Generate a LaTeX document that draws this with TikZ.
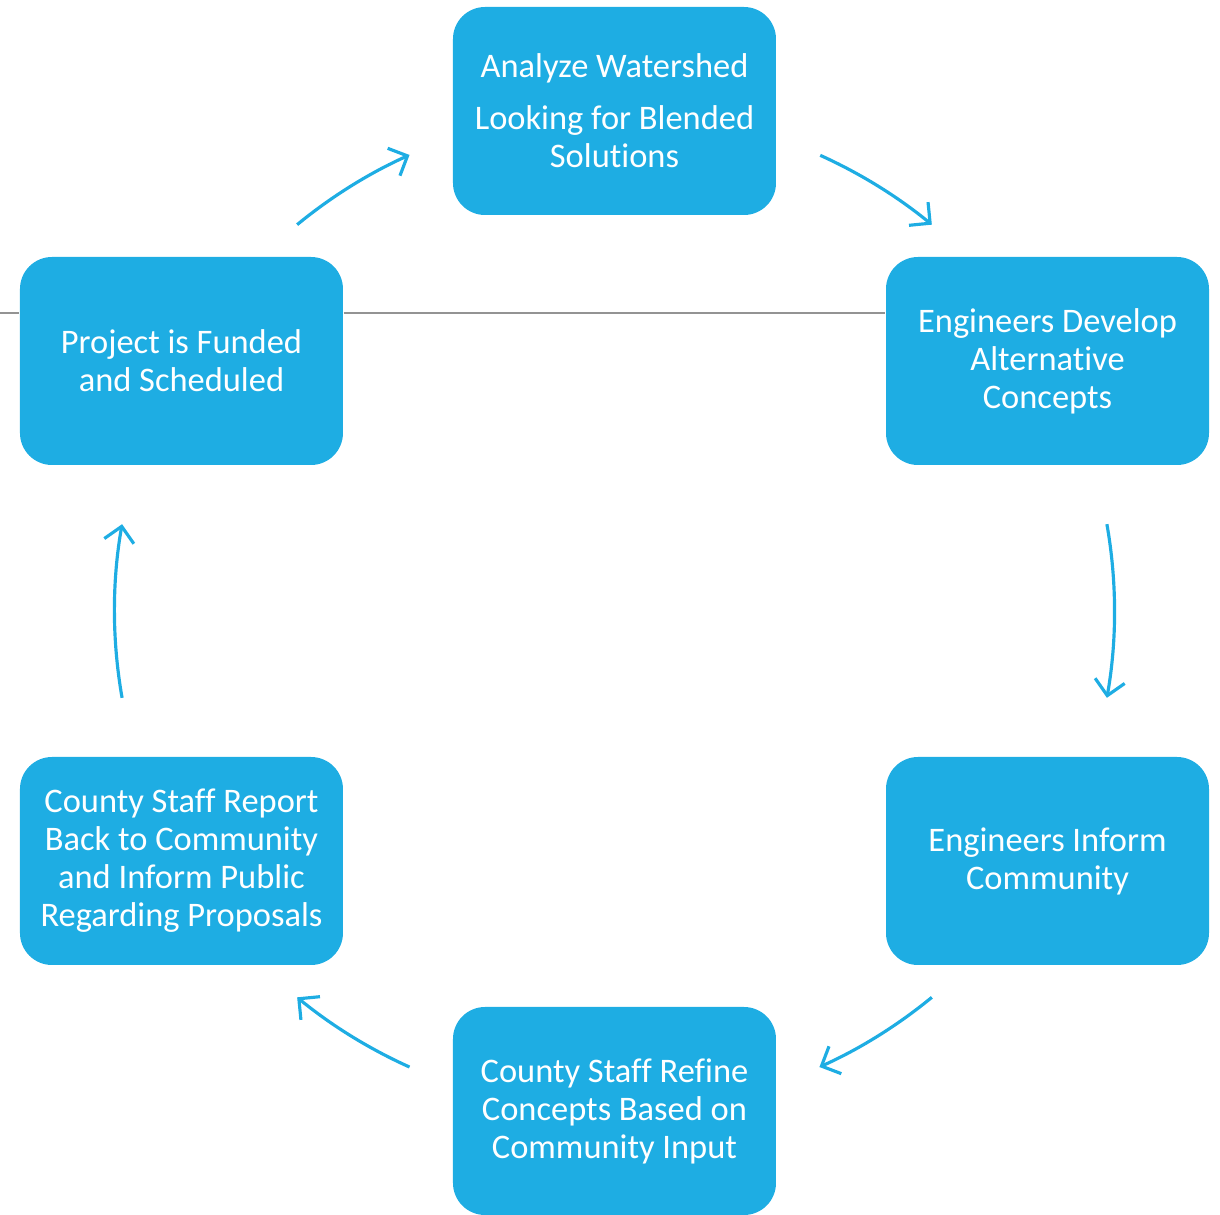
\documentclass[tikz,border=0pt]{standalone}
\usepackage{fontspec}
\setmainfont[Ligatures=NoCommon]{Carlito}
\usepackage{xcolor}
\usepackage{tikz}
\usetikzlibrary{arrows.meta}
\definecolor{stepblue}{HTML}{1EADE3}

\begin{document}
\begin{tikzpicture}[
    stepbox/.style={fill=stepblue, rounded corners=0.32cm,
        minimum width=3.23cm, minimum height=2.08cm, inner sep=0pt,
        text=white, align=center, font=\fontsize{9.8}{10.8}\selectfont},
    cycarrow/.style={stepblue, line width=0.9pt,
        -{Straight Barb[length=0.15cm, width=0.3cm]}}
]

    % Frame
    \useasboundingbox (-6.145,-6.04) rectangle (6.055,6.11);

    % Steps, on a circle of radius 5
    \node[stepbox] (watershed) at (90:5)
        {Analyze Watershed\\[4pt]Looking for Blended\\Solutions};
    \node[stepbox] (develop) at (30:5)
        {Engineers Develop\\Alternative\\Concepts};
    \node[stepbox] (inform) at (-30:5)
        {Engineers Inform\\Community};
    \node[stepbox] (refine) at (-90:5)
        {County Staff Refine\\Concepts Based on\\Community Input};
    \node[stepbox] (report) at (-150:5)
        {County Staff Report\\Back to Community\\and Inform Public\\Regarding Proposals};
    \node[stepbox] (funded) at (150:5)
        {Project is Funded\\and Scheduled};

    % Thin gray line
    \coordinate (edge) at (-6.145,2.98);
    \draw[gray!85, line width=0.5pt] (edge) -- (edge -| funded.west);
    \draw[gray!85, line width=0.5pt]
        (edge -| funded.east) -- (edge -| develop.west);

    % Arrows along the circle
    \coordinate (a1) at (129.4:5);
    \coordinate (a2) at (65.7:5);
    \coordinate (a3) at (10:5);
    \coordinate (a4) at (-50.6:5);
    \coordinate (a5) at (-114.2:5);
    \coordinate (a6) at (190:5);
    \draw[cycarrow] (a1) arc[start angle=129.4, end angle=114.2, radius=5];
    \draw[cycarrow] (a2) arc[start angle=65.7, end angle=50.6, radius=5];
    \draw[cycarrow] (a3) arc[start angle=10, end angle=-10, radius=5];
    \draw[cycarrow] (a4) arc[start angle=-50.6, end angle=-65.8, radius=5];
    \draw[cycarrow] (a5) arc[start angle=-114.2, end angle=-129.4, radius=5];
    \draw[cycarrow] (a6) arc[start angle=190, end angle=170, radius=5];

\end{tikzpicture}
\end{document}
